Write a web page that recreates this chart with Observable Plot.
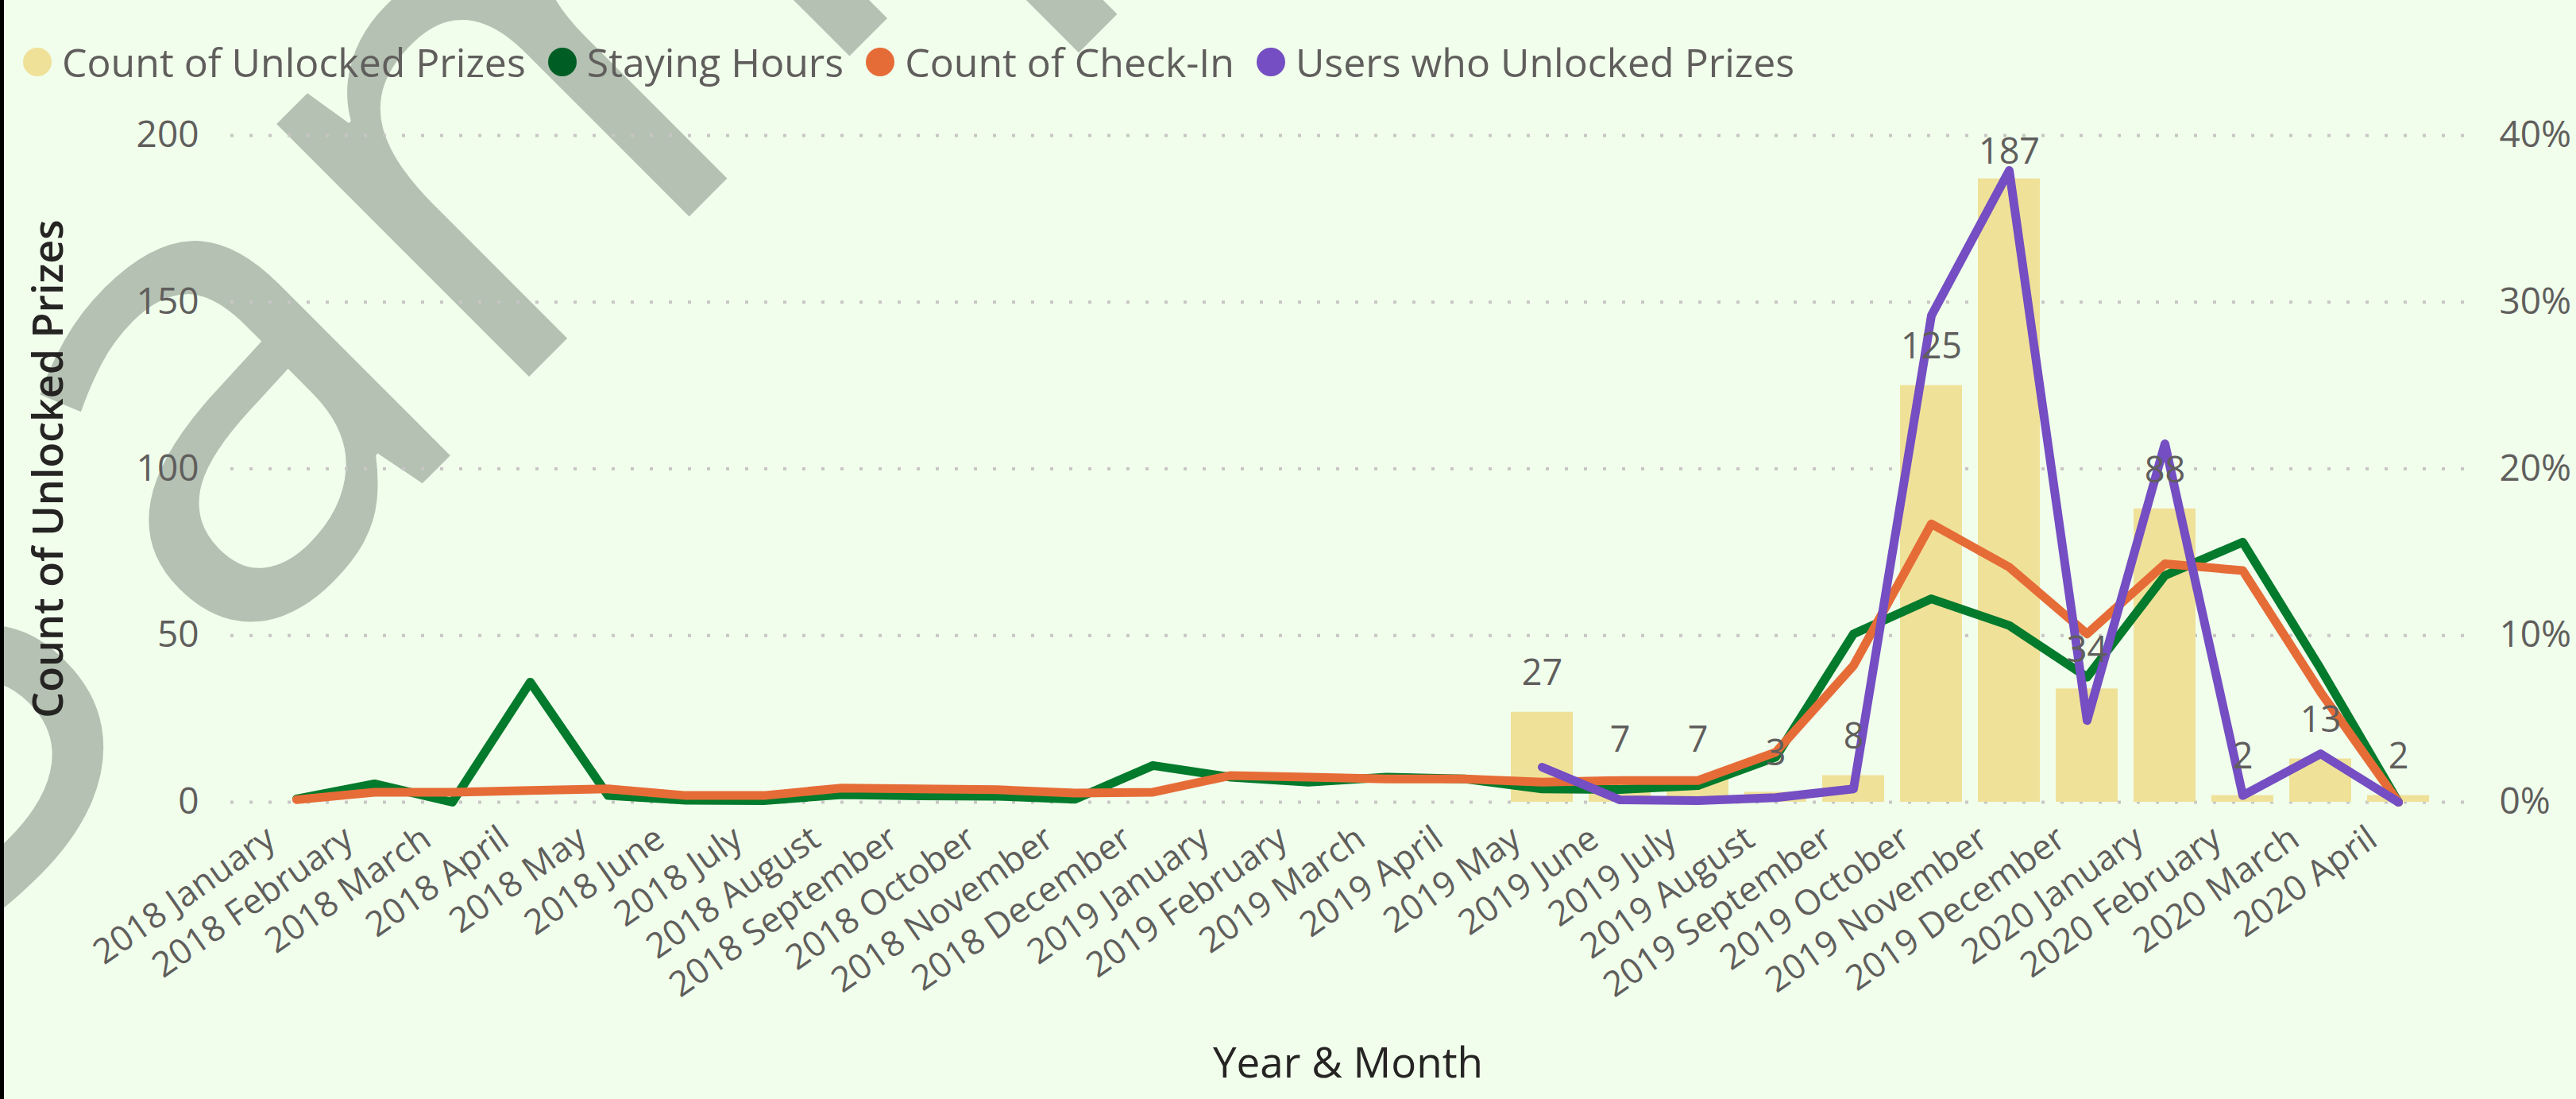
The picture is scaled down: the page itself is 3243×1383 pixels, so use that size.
<!DOCTYPE html>
<html>
<head>
<meta charset="utf-8">
<script src="https://cdn.jsdelivr.net/npm/d3@7"></script>
<script src="https://cdn.jsdelivr.net/npm/@observablehq/plot@0.6"></script>
<style>
  html, body { margin: 0; padding: 0; background: #F1FEEC; }
  #page { position: relative; width: 3243px; height: 1383px; overflow: hidden; background: #F1FEEC;
          font-family: 'Segoe UI', 'Open Sans', 'Noto Sans', sans-serif; }
  #edge { position: absolute; left: 0; top: 0; width: 5px; height: 1383px; background: #000; z-index: 3; }
  #watermark { position: absolute; left: 0; top: 0; z-index: 0; }
  #chart { position: absolute; left: 0; top: 0; z-index: 1; }
  #legend { position: absolute; left: 29px; top: 50px; height: 56px; display: flex; align-items: center; z-index: 2;
            font-size: 50px; color: #605E5C; white-space: nowrap; }
  .item { display: flex; align-items: center; margin-right: 28px; }
  .dot { width: 36px; height: 36px; border-radius: 50%; margin-right: 13px; flex: none; }
</style>
</head>
<body>
<div id="page">
  <svg id="watermark" width="3243" height="1383">
    <text x="0" y="0" transform="translate(-102,1242) rotate(-45)" font-size="840"
          font-family="'Segoe UI', 'Open Sans', 'Noto Sans', sans-serif" fill="#B5C1B3"><tspan>S</tspan><tspan dx="87">ample</tspan></text>
  </svg>
  <div id="legend"></div>
  <div id="chart"></div>
  <div id="edge"></div>
</div>
<script>
// ---- data ----
const months = [
  "2018 January", "2018 February", "2018 March", "2018 April", "2018 May", "2018 June",
  "2018 July", "2018 August", "2018 September", "2018 October", "2018 November", "2018 December",
  "2019 January", "2019 February", "2019 March", "2019 April", "2019 May", "2019 June",
  "2019 July", "2019 August", "2019 September", "2019 October", "2019 November", "2019 December",
  "2020 January", "2020 February", "2020 March", "2020 April"
];
const unlockedPrizes = [
  null, null, null, null, null, null, null, null, null, null, null, null,
  null, null, null, null, 27, 7, 7, 3, 8, 125, 187, 34, 88, 2, 13, 2
];
// line series, in percent (secondary axis)
const stayingHours = [
  0.2, 1.1, 0.0, 7.2, 0.4, 0.12, 0.1, 0.45, 0.38, 0.36, 0.18, 2.2,
  1.5, 1.2, 1.5, 1.4, 0.8, 0.76, 1.0, 2.7, 10.1, 12.2, 10.6, 7.5, 13.6, 15.6, 8.0, 0.0
];
const checkIns = [
  0.15, 0.6, 0.6, 0.7, 0.8, 0.4, 0.4, 0.85, 0.8, 0.75, 0.55, 0.6,
  1.6, 1.5, 1.4, 1.4, 1.2, 1.3, 1.3, 3.0, 8.2, 16.7, 14.1, 10.1, 14.3, 13.9, 6.6, 0.0
];
const usersUnlocked = [
  null, null, null, null, null, null, null, null, null, null, null, null,
  null, null, null, null, 2.1, 0.14, 0.1, 0.27, 0.8, 29.2, 37.9, 4.9, 21.5, 0.4, 2.9, 0.0
];
const leftTicks = [0, 50, 100, 150, 200];
const rightTicks = [0, 10, 20, 30, 40];   // percent
const seriesNames = ["Count of Unlocked Prizes", "Staying Hours", "Count of Check-In", "Users who Unlocked Prizes"];
const legendColors = ["#F0E199", "#005E25", "#E66C37", "#744EC2"];

// ---- legend ----
const legend = document.getElementById("legend");
seriesNames.forEach((name, i) => {
  const item = document.createElement("div");
  item.className = "item";
  const dot = document.createElement("div");
  dot.className = "dot";
  dot.style.background = legendColors[i];
  const label = document.createElement("span");
  label.textContent = name;
  item.appendChild(dot);
  item.appendChild(label);
  legend.appendChild(item);
});

// ---- chart ----
const pctToLeft = 200 / 40; // 40% on the right axis aligns with 200 on the left axis
const rows = months.map((m, i) => ({
  month: m,
  prizes: unlockedPrizes[i],
  hours: stayingHours[i],
  checkin: checkIns[i],
  users: usersUnlocked[i]
}));
const barRows = rows.filter(d => d.prizes != null);
const font = "'Segoe UI', 'Open Sans', 'Noto Sans', sans-serif";

const chart = Plot.plot({
  width: 3243,
  height: 1383,
  marginLeft: 290,
  marginRight: 140,
  marginTop: 170,
  marginBottom: 374,
  style: { background: "transparent", fontFamily: font, overflow: "visible" },
  x: { domain: months, paddingInner: 0.2, paddingOuter: 0.36, label: null },
  y: { domain: [0, 200], label: null },
  marks: [
    Plot.gridY(leftTicks, { stroke: "#C8C6C4", strokeOpacity: 1, strokeWidth: 4, strokeDasharray: "4,20" }),
    Plot.barY(barRows, { x: "month", y: "prizes", fill: "#F0E199" }),
    Plot.line(rows, { x: "month", y: d => d.hours * pctToLeft, stroke: "#037A2C", strokeWidth: 11, strokeLinejoin: "round", strokeLinecap: "round" }),
    Plot.line(rows, { x: "month", y: d => d.checkin * pctToLeft, stroke: "#E66C37", strokeWidth: 11, strokeLinejoin: "round", strokeLinecap: "round" }),
    Plot.line(rows.filter(d => d.users != null), { x: "month", y: d => d.users * pctToLeft, stroke: "#744EC2", strokeWidth: 11, strokeLinejoin: "round", strokeLinecap: "round" }),
    Plot.text(barRows, { x: "month", y: d => Math.min(d.prizes + 11.5, 195), text: d => String(d.prizes), fontSize: 45, fill: "#605E5C", lineAnchor: "middle" }),
    Plot.axisY(leftTicks, { anchor: "left", tickSize: 0, tickPadding: 40, fontSize: 46, fill: "#605E5C", label: null }),
    Plot.axisY(leftTicks, { anchor: "right", tickSize: 0, tickPadding: 43, fontSize: 46, fill: "#605E5C", label: null,
      tickFormat: d => Math.round(d / pctToLeft) + "%" }),
    Plot.axisX({ tickSize: 0, tickRotate: -35, tickPadding: 41, dx: -32, fontSize: 44, fill: "#605E5C", label: null }),
    Plot.text(["Count of Unlocked Prizes"], { text: d => d, frameAnchor: "left", textAnchor: "middle", dx: -228, rotate: -90, fontSize: 52, fontWeight: 600, fill: "#252423" }),
    Plot.text(["Year & Month"], { text: d => d, frameAnchor: "bottom", textAnchor: "middle", dy: 346, fontSize: 53, fontWeight: 500, fill: "#252423" })
  ]
});
document.getElementById("chart").appendChild(chart);
</script>
</body>
</html>
